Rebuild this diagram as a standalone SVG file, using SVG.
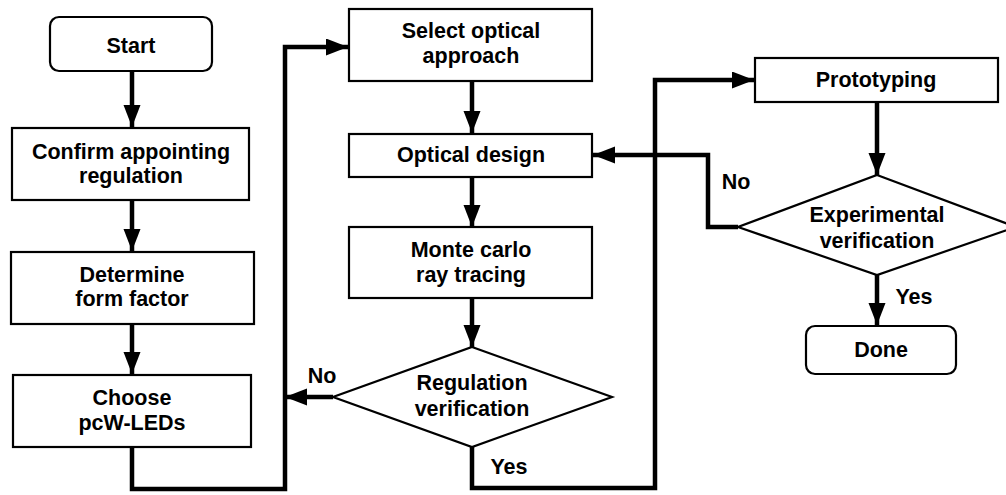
<svg xmlns="http://www.w3.org/2000/svg" width="1006" height="495" viewBox="0 0 1006 495">
<style>
.box{fill:#fff;stroke:#000;stroke-width:2.2}
.t{font-family:"Liberation Sans",Arial,sans-serif;font-weight:bold;font-size:21.5px;text-anchor:middle;fill:#000}
.c{fill:none;stroke:#000;stroke-width:4.5;stroke-linejoin:miter}
</style>
<defs>
<marker id="ah" markerUnits="userSpaceOnUse" markerWidth="24" markerHeight="18" refX="22" refY="8.5" orient="auto">
<path d="M0,0 L22,8.5 L0,17 Z" fill="#000"/>
</marker>
</defs>
<rect width="1006" height="495" fill="#fff"/>
<g id="connectors">
<path class="c" d="M132,71 V127" marker-end="url(#ah)"/>
<path class="c" d="M132,200 V251" marker-end="url(#ah)"/>
<path class="c" d="M132,324 V374" marker-end="url(#ah)"/>
<path class="c" d="M132,447 V489 H285 V47 H348" marker-end="url(#ah)"/>
<path class="c" d="M472,81 V133" marker-end="url(#ah)"/>
<path class="c" d="M472,177 V227" marker-end="url(#ah)"/>
<path class="c" d="M472,298 V347" marker-end="url(#ah)"/>
<path class="c" d="M333,397 H285" marker-end="url(#ah)"/>
<path class="c" d="M472,447 V488 H655 V80 H754" marker-end="url(#ah)"/>
<path class="c" d="M877,102 V175" marker-end="url(#ah)"/>
<path class="c" d="M738,227 H708 V155 H593" marker-end="url(#ah)"/>
<path class="c" d="M877,275 V325" marker-end="url(#ah)"/>
<text class="t" x="322" y="383">No</text>
<text class="t" x="509" y="474">Yes</text>
<text class="t" x="736" y="189">No</text>
<text class="t" x="914" y="304">Yes</text>
</g>
<g id="start"><rect class="box" x="50" y="17" width="162" height="54" rx="9"/><text class="t" x="131" y="53">Start</text></g>
<g id="confirm"><rect class="box" x="12" y="128" width="237" height="72"/><text class="t" x="131" y="159">Confirm appointing</text><text class="t" x="131" y="183">regulation</text></g>
<g id="determine"><rect class="box" x="11" y="252" width="243" height="72"/><text class="t" x="132" y="282">Determine</text><text class="t" x="132" y="306">form factor</text></g>
<g id="choose"><rect class="box" x="13" y="375" width="238" height="72"/><text class="t" x="132" y="405">Choose</text><text class="t" x="132" y="430">pcW-LEDs</text></g>
<g id="select"><rect class="box" x="349" y="9" width="243" height="72"/><text class="t" x="471" y="38">Select optical</text><text class="t" x="471" y="63">approach</text></g>
<g id="optical"><rect class="box" x="349" y="134" width="243" height="43"/><text class="t" x="471" y="162">Optical design</text></g>
<g id="monte"><rect class="box" x="349" y="227" width="243" height="71"/><text class="t" x="471" y="257">Monte carlo</text><text class="t" x="471" y="282">ray tracing</text></g>
<g id="regulation"><polygon class="box" points="472,347 612,397 472,447 333,397"/><text class="t" x="472" y="390">Regulation</text><text class="t" x="472" y="416">verification</text></g>
<g id="prototyping"><rect class="box" x="755" y="58" width="243" height="44"/><text class="t" x="876" y="87">Prototyping</text></g>
<g id="experimental"><polygon class="box" points="877,175 1016,227 877,275 738,227"/><text class="t" x="877" y="222">Experimental</text><text class="t" x="877" y="248">verification</text></g>
<g id="done"><rect class="box" x="806" y="326" width="150" height="48" rx="9"/><text class="t" x="881" y="357">Done</text></g>
</svg>
